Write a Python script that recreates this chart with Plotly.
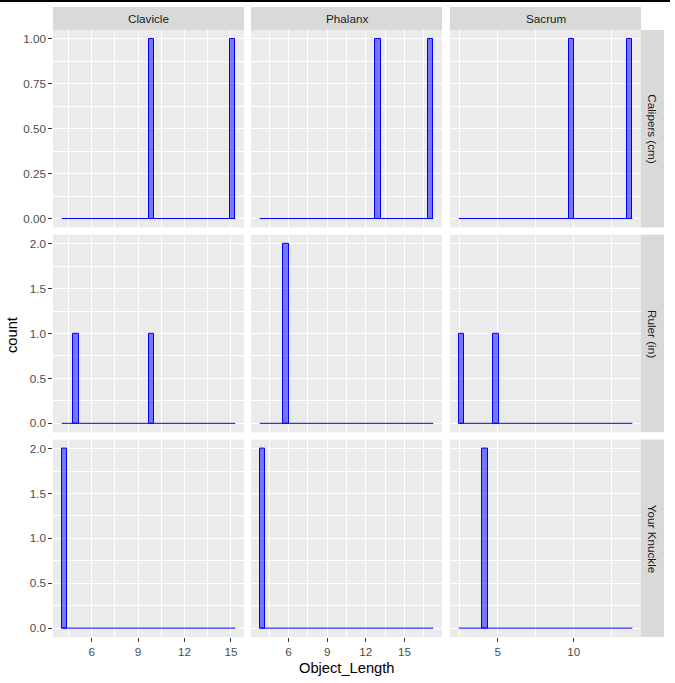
import numpy as np
import plotly.graph_objects as go

# ---- data ----
bones = ["Clavicle", "Phalanx", "Sacrum"]
methods = ["Calipers (cm)", "Ruler (in)", "Your Knuckle"]
clavicle_calipers = [10.0, 15.1]
clavicle_ruler = [5.0, 10.0]
clavicle_knuckle = [4.25, 4.25]
phalanx_calipers = [13.0, 17.0]
phalanx_ruler = [5.9, 5.9]
phalanx_knuckle = [4.0, 4.0]
sacrum_calipers = [10.0, 13.65]
sacrum_ruler = [2.625, 5.0]
sacrum_knuckle = [4.2, 4.2]
n_bins = 30

data = {
    ("Clavicle", "Calipers (cm)"): clavicle_calipers,
    ("Clavicle", "Ruler (in)"): clavicle_ruler,
    ("Clavicle", "Your Knuckle"): clavicle_knuckle,
    ("Phalanx", "Calipers (cm)"): phalanx_calipers,
    ("Phalanx", "Ruler (in)"): phalanx_ruler,
    ("Phalanx", "Your Knuckle"): phalanx_knuckle,
    ("Sacrum", "Calipers (cm)"): sacrum_calipers,
    ("Sacrum", "Ruler (in)"): sacrum_ruler,
    ("Sacrum", "Your Knuckle"): sacrum_knuckle,
}

W, H = 675, 683
def px(x): return x / W
def py(y): return 1 - y / H

col_px = [(53, 244), (251, 442), (450, 641)]
row_px = [(30, 227.5), (234.8, 432.3), (439.6, 637.1)]

x_dtick = {"Clavicle": 3, "Phalanx": 3, "Sacrum": 5}

fig = go.Figure()
layout = {}

# bins per column (ggplot-like: width = range/(bins-1), centred on min)
col_bins = {}
for b in bones:
    vals = np.concatenate([data[(b, m)] for m in methods])
    lo, hi = vals.min(), vals.max()
    w = (hi - lo) / (n_bins - 1)
    edges = lo - w / 2 + w * np.arange(n_bins + 1)
    col_bins[b] = edges

row_max = {}
for r, m in enumerate(methods):
    mx = 0
    for b in bones:
        c, _ = np.histogram(data[(b, m)], bins=col_bins[b])
        mx = max(mx, c.max())
    row_max[m] = mx

tickfont = dict(family="Liberation Sans, Arial", size=11.7, color="#4D4D4D")

for r, m in enumerate(methods):
    for ci, b in enumerate(bones):
        idx = r * 3 + ci + 1
        xs = "x" if idx == 1 else f"x{idx}"
        ys = "y" if idx == 1 else f"y{idx}"
        edges = col_bins[b]
        counts, _ = np.histogram(data[(b, m)], bins=edges)
        centers = (edges[:-1] + edges[1:]) / 2
        w = edges[1] - edges[0]
        mask = counts > 0
        fig.add_trace(go.Bar(x=centers[mask], y=counts[mask], width=w,
                             marker=dict(color="rgba(0,0,255,0.5)",
                                         line=dict(color="blue", width=1)),
                             xaxis=xs, yaxis=ys, showlegend=False))
        fig.add_trace(go.Scatter(x=[edges[0], edges[-1]], y=[0, 0], mode="lines",
                                 line=dict(color="blue", width=1),
                                 xaxis=xs, yaxis=ys, showlegend=False,
                                 hoverinfo="skip"))
        ext = edges[-1] - edges[0]
        xr = [edges[0] - 0.05 * ext, edges[-1] + 0.05 * ext]
        ymax = row_max[m]
        yr = [-0.05 * ymax, 1.05 * ymax]
        ydt = 0.25 if ymax == 1 else 0.5
        kx = "xaxis" if idx == 1 else f"xaxis{idx}"
        ky = "yaxis" if idx == 1 else f"yaxis{idx}"
        bottom = r == 2
        left = ci == 0
        layout[kx] = dict(domain=[px(col_px[ci][0]), px(col_px[ci][1])],
                          anchor=ys, range=xr, dtick=x_dtick[b], tick0=0,
                          showgrid=True, gridcolor="white", gridwidth=1.1,
                          zeroline=False, showline=False,
                          ticks="outside" if bottom else "", ticklen=3.7,
                          tickwidth=1, tickcolor="#333333",
                          showticklabels=bottom, tickfont=tickfont,
                          minor=dict(dtick=x_dtick[b] / 2, showgrid=True,
                                     gridcolor="white", gridwidth=0.55, ticks=""))
        layout[ky] = dict(domain=[py(row_px[r][1]), py(row_px[r][0])],
                          anchor=xs, range=yr, dtick=ydt, tick0=0,
                          tickformat=".2f" if ymax == 1 else ".1f",
                          showgrid=True, gridcolor="white", gridwidth=1.1,
                          zeroline=False, showline=False,
                          ticks="outside" if left else "", ticklen=3.7,
                          tickwidth=1, tickcolor="#333333",
                          showticklabels=left, tickfont=tickfont,
                          minor=dict(dtick=ydt / 2, showgrid=True,
                                     gridcolor="white", gridwidth=0.55, ticks=""))

shapes = []
annotations = []
stripfont = dict(family="Liberation Sans, Arial", size=11.7, color="#1A1A1A")
for ci, b in enumerate(bones):
    x0, x1 = col_px[ci]
    shapes.append(dict(type="rect", xref="paper", yref="paper",
                       x0=px(x0), x1=px(x1), y0=py(30), y1=py(7),
                       fillcolor="#D9D9D9", line=dict(width=0), layer="below"))
    annotations.append(dict(text=b, xref="paper", yref="paper",
                            x=px((x0 + x1) / 2), y=py(18.5), showarrow=False,
                            font=stripfont, xanchor="center", yanchor="middle"))
for r, m in enumerate(methods):
    y0, y1 = row_px[r]
    shapes.append(dict(type="rect", xref="paper", yref="paper",
                       x0=px(641), x1=px(664), y0=py(y1), y1=py(y0),
                       fillcolor="#D9D9D9", line=dict(width=0), layer="below"))
    annotations.append(dict(text=m, xref="paper", yref="paper",
                            x=px(652.5), y=py((y0 + y1) / 2), showarrow=False,
                            textangle=90, font=stripfont,
                            xanchor="center", yanchor="middle"))

titlefont = dict(family="Liberation Sans, Arial", size=14.7, color="black")
annotations.append(dict(text="count", xref="paper", yref="paper",
                        x=px(12), y=py(335), showarrow=False, textangle=-90,
                        font=titlefont, xanchor="center", yanchor="middle"))
annotations.append(dict(text="Object_Length", xref="paper", yref="paper",
                        x=px(347), y=py(668), showarrow=False,
                        font=titlefont, xanchor="center", yanchor="middle"))
shapes.append(dict(type="line", xref="paper", yref="paper",
                   x0=0, x1=px(670), y0=py(1), y1=py(1),
                   line=dict(color="black", width=2)))

fig.update_layout(width=W, height=H, margin=dict(l=0, r=0, t=0, b=0),
                  plot_bgcolor="#EBEBEB", paper_bgcolor="white",
                  barmode="overlay", bargap=0,
                  shapes=shapes, annotations=annotations, **layout)

fig.write_html("out.html")
